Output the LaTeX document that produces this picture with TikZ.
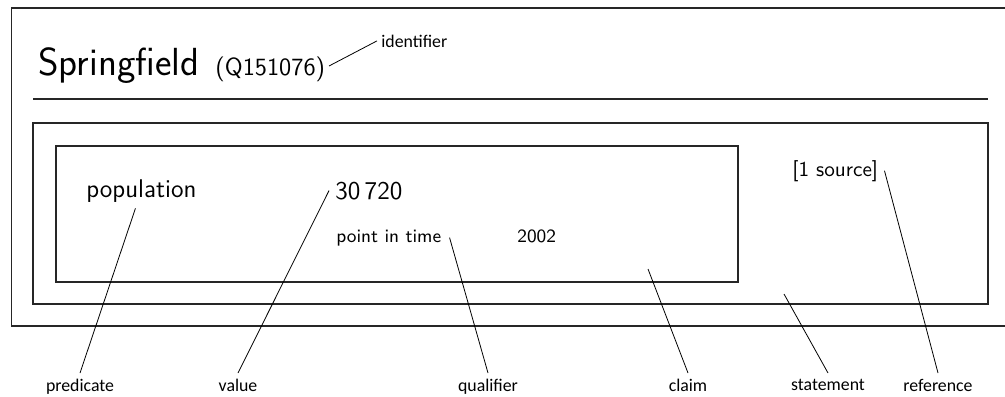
\documentclass[tikz,border=0pt]{standalone}
\usepackage{fontspec}
\newfontfamily\labelfont{Carlito}
\begin{document}
\begin{tikzpicture}[x=0.5pt,y=-0.5pt,
  frame/.style={draw=black!85, line width=0.65pt},
  pointer/.style={draw=black, line width=0.4pt},
  tag/.style={font=\labelfont\fontsize{8.9}{10}\selectfont, anchor=north, inner sep=2.9pt},
  entry/.style={anchor=base west, inner sep=3pt},
  bigtitle/.style={font=\sffamily\fontsize{19.6}{22}\selectfont},
  idfont/.style={font=\sffamily\fontsize{12.4}{14}\selectfont},
  mainfont/.style={font=\sffamily\fontsize{12.8}{15}\selectfont},
  smallfont/.style={font=\sffamily\fontsize{9.4}{11}\selectfont},
  srcfont/.style={font=\sffamily\fontsize{10.6}{12}\selectfont}
]
\useasboundingbox (0,0) rectangle (1005,396);
\clip (0,0) rectangle (1005,396);

% item frame, header rule, statement box and claim box
\draw[frame] (11.5,8) rectangle (1040,326);
\draw[frame] (33,99) -- (988,99);
\draw[frame] (33,123) rectangle (988,304);
\draw[frame] (56,146) rectangle (738,282);

% header
\node[bigtitle, anchor=base west, inner sep=0pt] (title) at (38,75) {Springfield};
\node[idfont, anchor=base west, inner sep=0pt] (qid) at (215,75) {(Q151076)};
\node[font=\labelfont\fontsize{8.9}{10}\selectfont, anchor=base west, inner sep=2pt] (identifier) at (377,47) {identifier};
\coordinate (qidtip) at (329,66);

% claim contents
\node[mainfont, entry] (pop) at (80,197) {population};
\node[mainfont, entry] (val) at (329,199) {30\,720};
\node[smallfont, entry, inner xsep=4pt] (pit) at (328,242) {point in time};
\node[smallfont, entry, inner sep=0pt] (year) at (517,242) {2002};
\node[srcfont, entry] (src) at (786,176) {[1 source]};
\coordinate (claimpt) at (648,269);
\coordinate (stmtpt) at (784,294);

% part names
\node[tag] (predicate) at (80,373) {predicate};
\node[tag] (value) at (238,373) {value};
\node[tag] (qualifier) at (488,373) {qualifier};
\node[tag] (claim) at (688,373) {claim};
\node[tag] (statement) at (828,373) {statement};
\node[tag] (reference) at (938,373) {reference};

% pointers
\draw[pointer] (qidtip) -- (identifier.west);
\draw[pointer] (pop) -- (predicate.north);
\draw[pointer] (val.west) -- (value.north);
\draw[pointer] (pit.east) -- (qualifier.north);
\draw[pointer] (claimpt) -- (claim.north);
\draw[pointer] (stmtpt) -- (statement.north);
\draw[pointer] (src.east) -- (reference.north);
\end{tikzpicture}
\end{document}
